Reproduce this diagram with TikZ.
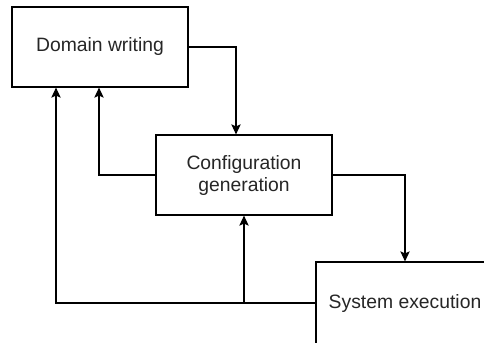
\documentclass[tikz,border=0pt]{standalone}
\usepackage{fontspec}
\setmainfont{Liberation Sans}
\usetikzlibrary{arrows.meta}
\begin{document}
\begin{tikzpicture}[x=0.75pt,y=-0.75pt,
  box/.style={draw=black,line width=0.9pt,fill=white,inner sep=0pt,
    font=\fontsize{14.5}{16.5}\selectfont,text=black!85,align=center},
  link/.style={draw=black,line width=0.9pt,
    -{Stealth[length=7.5pt,width=7pt,inset=1.5pt]}}]
\useasboundingbox (0,0) rectangle (484,342);
\begin{scope}
\clip (0,0) rectangle (484,342);
\node[box,minimum width=176*0.75pt,minimum height=80*0.75pt] (dom) at (100,47) {Domain writing};
\node[box,minimum width=176*0.75pt,minimum height=80*0.75pt] (cfg) at (244,175) {Configuration\\generation};
\node[box,minimum width=178*0.75pt,minimum height=82*0.75pt] (sys) at (405,303) {System execution};

\coordinate (j1) at (236,47);
\coordinate (j2) at (99,175);
\coordinate (j3) at (405,175);
\coordinate (j4) at (56,303);
\coordinate (j5) at (244,303);

\draw[link] (dom.east) -- (j1) -- (j1 |- cfg.north);
\draw[link] (cfg.west) -- (j2) -- (j2 |- dom.south);
\draw[link] (cfg.east) -- (j3) -- (sys.north);
\draw[link] (sys.west) -- (j4) -- (j4 |- dom.south);
\draw[link] (j5) -- (cfg.south);
\end{scope}
\end{tikzpicture}
\end{document}
